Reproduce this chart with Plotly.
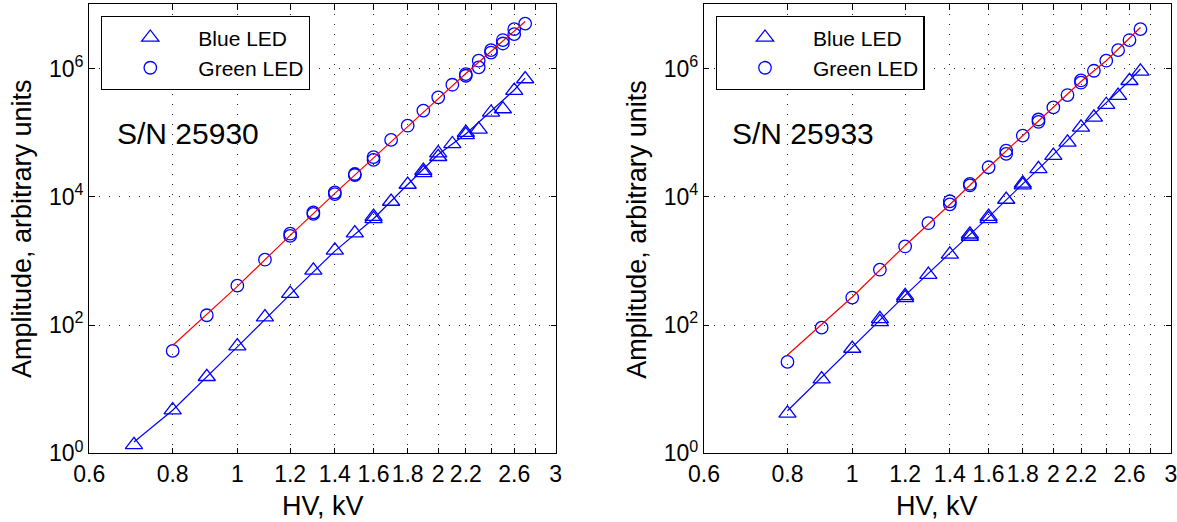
import plotly.graph_objects as go
import math

# ---------------- data ----------------
# Left panel: S/N 25930
blue_x_L = [0.7, 0.8, 0.9, 1.0, 1.1, 1.2, 1.3, 1.4, 1.5, 1.6, 1.6, 1.7, 1.8, 1.9, 1.9,
            2.0, 2.0, 2.1, 2.2, 2.2, 2.3, 2.4, 2.5, 2.6, 2.7]
blue_y_L = [1.35, 4.7, 15.6, 47, 133, 309, 711, 1456, 2706, 4500, 4900, 8430, 15500, 23500, 25500,
            42000, 48000, 66500, 92000, 100000, 112000, 206000, 233000, 450000, 684000]
green_x_L = [0.8, 0.9, 1.0, 1.1, 1.2, 1.2, 1.3, 1.3, 1.4, 1.4, 1.5, 1.5, 1.6, 1.6, 1.7, 1.8,
             1.9, 2.0, 2.1, 2.2, 2.2, 2.3, 2.3, 2.4, 2.4, 2.5, 2.5, 2.6, 2.6, 2.7]
green_y_L = [39.5, 142, 411, 1044, 2450, 2650, 5400, 5700, 11000, 11700, 21800, 22600, 37500, 41500,
             76900, 128000, 220000, 354000, 557000, 769000, 818000, 1.04e6, 1.32e6, 1.77e6, 1.93e6,
             2.45e6, 2.77e6, 3.43e6, 4.1e6, 5.0e6]
fitB_x_L = [0.7, 0.8, 1.0, 1.2, 1.4, 1.6, 1.8, 2.0, 2.2, 2.4, 2.6, 2.7]
fitB_y_L = [1.5, 4.7, 45.6, 301, 1420, 4530, 15500, 45400, 95300, 220000, 461000, 708000]
fitG_x_L = [0.8, 1.0, 1.2, 1.4, 1.8, 2.2, 2.7]
fitG_y_L = [48, 400, 2500, 11300, 124000, 835000, 5.4e6]

# Right panel: S/N 25933
blue_x_R = [0.8, 0.9, 1.0, 1.1, 1.1, 1.2, 1.2, 1.3, 1.4, 1.5, 1.5, 1.6, 1.6, 1.7, 1.8, 1.8,
            1.9, 2.0, 2.1, 2.2, 2.3, 2.4, 2.5, 2.6, 2.7]
blue_y_R = [4.2, 14.3, 43, 112, 125, 265, 285, 610, 1262, 2400, 2600, 4500, 4900, 9050, 15200, 16200,
            27200, 43800, 70500, 121000, 173000, 272000, 376000, 643000, 898000]
green_x_R = [0.8, 0.9, 1.0, 1.1, 1.2, 1.3, 1.4, 1.4, 1.5, 1.5, 1.6, 1.7, 1.7, 1.8, 1.9, 1.9,
             2.0, 2.1, 2.2, 2.2, 2.3, 2.4, 2.5, 2.6, 2.7]
green_y_R = [26.6, 91, 268, 729, 1680, 3870, 7600, 8500, 15000, 15900, 28800, 46600, 52400, 89700,
             147000, 160000, 247000, 385000, 600000, 650000, 920000, 1.32e6, 1.93e6, 2.77e6, 4.1e6]
fitB_x_R = [0.8, 1.0, 1.2, 1.4, 1.6, 1.8, 2.0, 2.2, 2.4, 2.6, 2.7]
fitB_y_R = [4.6, 45.6, 290, 1322, 4800, 15900, 45400, 124000, 296000, 643000, 980000]
fitG_x_R = [0.8, 1.0, 1.2, 1.4, 1.6, 1.8, 2.0, 2.2, 2.4, 2.7]
fitG_y_R = [34, 273, 1740, 7570, 28800, 89700, 247000, 627000, 1.32e6, 4.34e6]

x_tickvals = [0.6, 0.8, 1.0, 1.2, 1.4, 1.6, 1.8, 2.0, 2.2, 2.4, 2.6, 2.8, 3.0]
x_ticktext = ["0.6", "0.8", "1", "1.2", "1.4", "1.6", "1.8", "2", "2.2", "", "2.6", "", "3"]
y_tickvals = [1, 100, 1e4, 1e6]
y_ticktext = ["10<sup>0</sup>", "10<sup>2</sup>", "10<sup>4</sup>", "10<sup>6</sup>"]
panel_labels = ["S/N 25930", "S/N 25933"]
series_names = ["Blue LED", "Green LED"]
x_title = "HV, kV"
y_title = "Amplitude, arbitrary units"

# ---------------- figure ----------------
FONT = "Liberation Sans, Arial, Helvetica, sans-serif"
BLUE = "rgb(0,0,255)"
RED = "rgb(255,0,0)"
W, H = 1177, 522

fig = go.Figure()

panels = [
    dict(bx=blue_x_L, by=blue_y_L, gx=green_x_L, gy=green_y_L,
         fbx=fitB_x_L, fby=fitB_y_L, fgx=fitG_x_L, fgy=fitG_y_L, xa="x", ya="y", lg="legend"),
    dict(bx=blue_x_R, by=blue_y_R, gx=green_x_R, gy=green_y_R,
         fbx=fitB_x_R, fby=fitB_y_R, fgx=fitG_x_R, fgy=fitG_y_R, xa="x2", ya="y2", lg="legend2"),
]

for p in panels:
    fig.add_trace(go.Scatter(x=p["bx"], y=p["by"], mode="markers", name=series_names[0],
                             xaxis=p["xa"], yaxis=p["ya"], legend=p["lg"],
                             marker=dict(symbol="triangle-up-open", size=15, color=BLUE,
                                         line=dict(width=1.3, color=BLUE))))
    fig.add_trace(go.Scatter(x=p["gx"], y=p["gy"], mode="markers", name=series_names[1],
                             xaxis=p["xa"], yaxis=p["ya"], legend=p["lg"],
                             marker=dict(symbol="circle-open", size=12.5, color=BLUE,
                                         line=dict(width=1.3, color=BLUE))))
    fig.add_trace(go.Scatter(x=p["fbx"], y=p["fby"], mode="lines", showlegend=False,
                             xaxis=p["xa"], yaxis=p["ya"], line=dict(color=BLUE, width=1.2)))
    fig.add_trace(go.Scatter(x=p["fgx"], y=p["fgy"], mode="lines", showlegend=False,
                             xaxis=p["xa"], yaxis=p["ya"], line=dict(color=RED, width=1.2)))

ydom = [(522 - 453.3) / H, (522 - 4.3) / H]
xdoms = [[89.3 / W, 555.7 / W], [704 / W, 1171 / W]]

common_x = dict(type="log", range=[math.log10(0.6), math.log10(3.0)], automargin=False,
                tickmode="array", tickvals=x_tickvals, ticktext=x_ticktext,
                ticks="inside", ticklen=5, tickwidth=1, tickcolor="black",
                showline=True, linecolor="black", linewidth=1.4, mirror="ticks",
                showgrid=True, gridcolor="#222222", gridwidth=1, griddash="1px,9px",
                tickfont=dict(family=FONT, size=23, color="black"),
                ticklabeloverflow="allow", zeroline=False)
common_y = dict(type="log", range=[0, 7], domain=ydom, automargin=False,
                tickmode="array", tickvals=y_tickvals, ticktext=y_ticktext,
                ticks="inside", ticklen=5, tickwidth=1, tickcolor="black",
                showline=True, linecolor="black", linewidth=1.4, mirror="ticks",
                showgrid=True, gridcolor="#222222", gridwidth=1, griddash="1px,9px",
                tickfont=dict(family=FONT, size=23, color="black"),
                ticklabeloverflow="allow", zeroline=False)

legend_common = dict(bgcolor="white", bordercolor="black", borderwidth=1.3,
                     font=dict(family=FONT, size=21, color="black"),
                     xanchor="left", yanchor="top", itemwidth=86, tracegroupgap=0)

title_font = dict(family=FONT, size=27, color="black")
annotations = []
for i, xd in enumerate(xdoms):
    annotations.append(dict(text=panel_labels[i], xref="paper", yref="paper",
                            x=xd[0] + 26 / W, y=(522 - 133) / H,
                            xanchor="left", yanchor="middle", showarrow=False,
                            font=dict(family=FONT, size=30, color="black")))
    # axis titles
    annotations.append(dict(text=x_title, xref="paper", yref="paper",
                            x=(xd[0] + xd[1]) / 2, y=(522 - 506) / H,
                            xanchor="center", yanchor="middle", showarrow=False, font=title_font))
    annotations.append(dict(text=y_title, xref="paper", yref="paper",
                            x=xd[0] - 67 / W, y=(ydom[0] + ydom[1]) / 2, textangle=-90,
                            xanchor="center", yanchor="middle", showarrow=False, font=title_font))

fig.update_layout(
    template="none",
    width=W, height=H,
    margin=dict(l=0, r=0, t=0, b=0, autoexpand=False),
    paper_bgcolor="white", plot_bgcolor="white",
    font=dict(family=FONT, color="black"),
    showlegend=True,
    xaxis=dict(common_x, domain=xdoms[0], anchor="y"),
    yaxis=dict(common_y, anchor="x"),
    xaxis2=dict(common_x, domain=xdoms[1], anchor="y2"),
    yaxis2=dict(common_y, anchor="x2"),
    legend=dict(legend_common, x=101 / W, y=(522 - 16) / H),
    legend2=dict(legend_common, x=715.7 / W, y=(522 - 16) / H),
    annotations=annotations,
)

fig.write_html("out.html", config={"displayModeBar": False},
               post_script="document.body.style.margin='0px';document.body.style.padding='0px';")
